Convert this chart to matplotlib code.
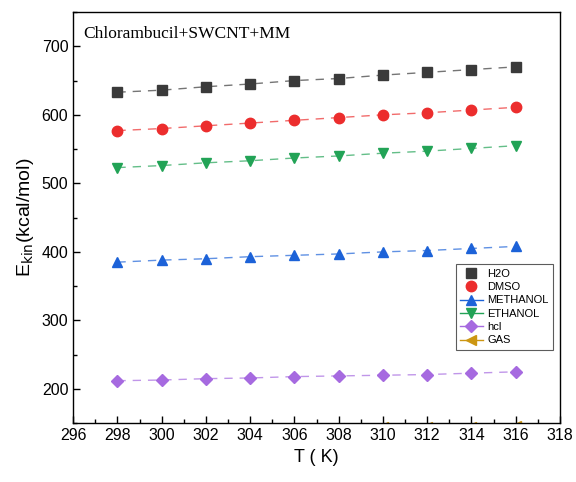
import matplotlib
matplotlib.use("Agg")
import matplotlib.pyplot as plt
from matplotlib.ticker import MultipleLocator

T = [298, 300, 302, 304, 306, 308, 310, 312, 314, 316]
h2o = [633, 636, 641, 645, 650, 653, 658, 662, 666, 670]
dmso = [577, 580, 584, 588, 592, 596, 600, 603, 607, 611]
methanol = [385, 388, 390, 393, 395, 397, 400, 402, 405, 408]
ethanol = [523, 526, 530, 533, 537, 540, 544, 547, 551, 555]
hcl = [212, 213, 215, 216, 218, 219, 220, 221, 223, 225]
gas = [138, 139, 140, 141, 143, 143, 144, 145, 145, 146]

plt.rcParams['font.family'] = ['Liberation Sans', 'DejaVu Sans']

fig = plt.figure(figsize=(5.76, 4.82), dpi=100)
ax = fig.add_axes([0.127, 0.122, 0.845, 0.853])

series = [
    ("H2O", h2o, "s", "#3a3a3a", 6.5, False),
    ("DMSO", dmso, "o", "#ec2d2d", 7.5, False),
    ("METHANOL", methanol, "^", "#1c62d8", 7.5, True),
    ("ETHANOL", ethanol, "v", "#22a356", 7.5, True),
    ("hcl", hcl, "D", "#a66ae0", 6.5, True),
    ("GAS", gas, "<", "#cc9612", 7.5, True),
]
handles = []
for name, vals, mk, col, ms, legline in series:
    ax.plot(T, vals, linestyle=(0, (6, 5)), color=col, alpha=0.7, lw=1.0)
    ax.plot(T, vals, linestyle='none', marker=mk, color=col, ms=ms)
    h, = ax.plot([], [], linestyle='-' if legline else 'none', lw=1.0,
                 marker=mk, color=col, ms=ms)
    handles.append((h, name))

ax.set_xlim(296, 318)
ax.set_ylim(150, 750)
ax.xaxis.set_major_locator(MultipleLocator(2))
ax.xaxis.set_minor_locator(MultipleLocator(1))
ax.yaxis.set_major_locator(MultipleLocator(100))
ax.yaxis.set_minor_locator(MultipleLocator(50))
ax.set_yticks([200, 300, 400, 500, 600, 700])
ax.tick_params(which='both', direction='in', top=False, right=False, labelsize=11.5)
ax.tick_params(which='major', length=5, width=1)
ax.tick_params(which='minor', length=3, width=1)
for s in ax.spines.values():
    s.set_linewidth(1.0)

ax.set_xlabel("T ( K)", fontsize=13)
ax.set_ylabel(r"E$_{\mathrm{kin}}$(kcal/mol)", fontsize=14)

ax.text(0.02, 0.965, "Chlorambucil+SWCNT+MM", transform=ax.transAxes,
        fontsize=12.5, family='Liberation Serif', va='top', ha='left')

leg = ax.legend([h for h, _ in handles], [n for _, n in handles],
                loc='upper right', bbox_to_anchor=(0.997, 0.40), fontsize=8,
                frameon=True, fancybox=False, edgecolor='#333333',
                handlelength=2.0, labelspacing=0.3, borderpad=0.4,
                handletextpad=0.4)
leg.get_frame().set_linewidth(0.8)

fig.savefig("out.png", dpi=100)
